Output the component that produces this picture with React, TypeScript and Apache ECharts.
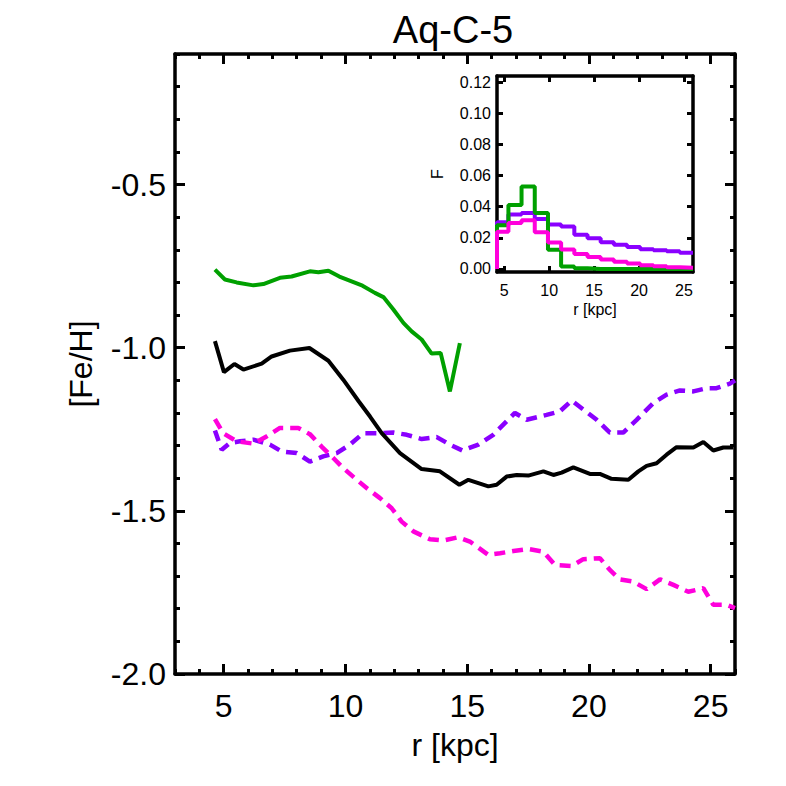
import React, { useEffect, useRef } from "react";
import * as echarts from "echarts";

// ---- Main panel data ----
const blackR = [4.64, 5.01, 5.44, 5.81, 6.56, 6.97, 7.72, 8.52, 9.3, 9.91, 10.55, 11.01, 11.49, 12.24, 13.13, 13.88, 14.68, 15.05, 15.87, 16.21, 16.62, 17.03, 17.51, 18.13, 18.54, 18.88, 19.36, 20.04, 20.45, 20.93, 21.62, 22.03, 22.37, 22.78, 23.19, 23.6, 24.29, 24.7, 25.11, 25.52, 25.93];
const blackFeH = [-0.98, -1.075, -1.05, -1.067, -1.049, -1.027, -1.009, -1.001, -1.04, -1.098, -1.165, -1.211, -1.262, -1.323, -1.372, -1.379, -1.42, -1.405, -1.425, -1.42, -1.395, -1.39, -1.392, -1.379, -1.39, -1.383, -1.367, -1.387, -1.387, -1.402, -1.405, -1.379, -1.362, -1.354, -1.328, -1.305, -1.306, -1.289, -1.315, -1.306, -1.306];

const greenR = [4.64, 5.05, 5.53, 6.22, 6.63, 7.31, 7.79, 8.54, 8.89, 9.3, 9.75, 10.7, 11.21, 11.56, 11.97, 12.38, 12.72, 13.13, 13.54, 13.91, 14.29, 14.7];
const greenFeH = [-0.761, -0.791, -0.8, -0.809, -0.805, -0.786, -0.782, -0.766, -0.769, -0.764, -0.782, -0.81, -0.832, -0.845, -0.883, -0.924, -0.95, -0.975, -1.018, -1.016, -1.134, -0.986];

const purpleR = [4.64, 4.92, 5.26, 5.67, 6.22, 6.9, 7.38, 8.0, 8.54, 9.09, 9.64, 10.19, 10.73, 11.28, 11.97, 12.52, 13.13, 13.75, 14.29, 14.8, 15.46, 16.07, 16.96, 17.44, 18.26, 18.81, 19.29, 20.32, 20.86, 21.41, 21.96, 22.64, 23.19, 23.74, 24.29, 24.84, 25.24, 25.79, 26.0];
const purpleFeH = [-1.254, -1.313, -1.292, -1.287, -1.282, -1.297, -1.318, -1.323, -1.349, -1.333, -1.323, -1.297, -1.262, -1.262, -1.26, -1.267, -1.28, -1.274, -1.297, -1.315, -1.297, -1.267, -1.2, -1.221, -1.206, -1.195, -1.162, -1.221, -1.26, -1.26, -1.221, -1.17, -1.144, -1.131, -1.134, -1.124, -1.124, -1.11, -1.1];

const pinkR = [4.64, 4.98, 5.53, 6.22, 6.76, 7.31, 8.06, 8.54, 9.02, 9.5, 9.91, 10.39, 10.87, 11.42, 11.9, 12.31, 12.79, 13.47, 14.02, 14.63, 15.11, 15.87, 16.35, 16.9, 17.51, 18.13, 18.61, 19.29, 19.77, 20.45, 20.86, 21.27, 21.82, 22.37, 22.92, 23.47, 24.08, 24.7, 25.11, 25.66, 26.0];
const pinkFeH = [-1.219, -1.262, -1.287, -1.294, -1.272, -1.246, -1.246, -1.265, -1.303, -1.338, -1.369, -1.4, -1.43, -1.461, -1.492, -1.533, -1.563, -1.587, -1.591, -1.581, -1.594, -1.635, -1.63, -1.623, -1.617, -1.625, -1.666, -1.669, -1.648, -1.645, -1.681, -1.71, -1.717, -1.74, -1.71, -1.727, -1.748, -1.737, -1.788, -1.788, -1.798];

// ---- Inset histogram data ----
const binEdges = [4.2, 5.47, 6.93, 8.4, 9.87, 11.33, 12.8, 14.27, 15.73, 17.2, 18.67, 20.13, 21.6, 23.07, 24.53, 26.0];
const histPurple = [0.030, 0.035, 0.036, 0.032, 0.0285, 0.0272, 0.022, 0.0197, 0.0172, 0.0155, 0.014, 0.0127, 0.012, 0.0113, 0.0104];
const histGreen = [0.028, 0.041, 0.053, 0.036, 0.0123, 0.0016, 0.0004, 0.0, 0.0, 0.0, 0.0, 0.0, 0.0, 0.0, 0.0];
const histPink = [0.0238, 0.0295, 0.0313, 0.0235, 0.017, 0.0125, 0.0095, 0.0076, 0.006, 0.0046, 0.0034, 0.0024, 0.0017, 0.0011, 0.0007];

// ---- Tick values ----
const mainXMajor = [5, 10, 15, 20, 25];
const mainYMajor = [-2.0, -1.5, -1.0, -0.5];
const insetXTicks = [5, 10, 15, 20, 25];
const insetYTicks = [0, 0.02, 0.04, 0.06, 0.08, 0.1, 0.12];

const FONT = "Liberation Sans";
const C_BLACK = "#000000";
const C_GREEN = "#00a000";
const C_PURPLE = "#8a00ff";
const C_PINK = "#ff00dc";

function pairs(xs: number[], ys: number[]) {
  return xs.map((x, i) => [x, ys[i]]);
}
function stepData(edges: number[], vals: number[]) {
  const pts: number[][] = [[edges[0], 0]];
  vals.forEach((v, i) => {
    pts.push([edges[i], v]);
    pts.push([edges[i + 1], v]);
  });
  return pts;
}

export default function App() {
  const ref = useRef<HTMLDivElement>(null);
  useEffect(() => {
    if (!ref.current) return;
    const chart = echarts.init(ref.current, null, { renderer: "svg" });
    const axisLine = { show: true, onZero: false, lineStyle: { color: "#000", width: 3.5 } };
    const hiddenLine = { show: false, onZero: false };
    const noLabel = { show: false };
    const base = { type: "value", splitLine: { show: false }, nameMoveOverlap: false };
    const mainX = { ...base, min: 3, max: 26, gridIndex: 0 };
    const mainY = { ...base, min: -2, max: -0.1, gridIndex: 0 };
    const insX = { ...base, min: 4.2, max: 26, gridIndex: 1 };
    const insY = { ...base, min: -0.002, max: 0.124, gridIndex: 1 };
    const minorTick = { show: true, inside: true, length: 5, lineStyle: { width: 3, color: "#000" } };
    const majorTick = (vals: number[], len: number) => ({
      show: true,
      inside: true,
      length: len,
      customValues: vals,
      lineStyle: { width: 3, color: "#000" },
    });

    const lineSeries = (name: string, data: number[][], color: string, dashed: boolean, xi: number, yi: number) => ({
      type: "line",
      name,
      data,
      xAxisIndex: xi,
      yAxisIndex: yi,
      showSymbol: false,
      symbol: "none",
      lineStyle: { color, width: dashed ? 4.5 : 4, type: dashed ? [11, 7] : "solid" },
      z: 3,
    });

    const option: any = {
      animation: false,
      backgroundColor: "#ffffff",
      grid: [
        { left: 175, top: 54, right: 51, bottom: 112 },
        { left: 497, top: 76, right: 93, bottom: 514 },
      ],
      graphic: [
        {
          type: "text",
          x: 453,
          y: 30,
          style: {
            text: "Aq-C-5",
            font: `38px "${FONT}"`,
            fill: "#000",
            textAlign: "center",
            textVerticalAlign: "middle",
          },
        },
      ],
      xAxis: [
        {
          ...mainX,
          position: "bottom",
          interval: 1,
          axisLine,
          axisTick: minorTick,
          axisLabel: {
            show: true,
            margin: 16,
            fontSize: 32,
            fontFamily: FONT,
            color: "#000",
            formatter: (v: number) => (Math.abs(v % 5) < 1e-6 ? String(Math.round(v)) : ""),
          },
          name: "r [kpc]",
          nameLocation: "middle",
          nameGap: 55,
          nameTextStyle: { fontSize: 32, fontFamily: FONT, color: "#000" },
        },
        { ...mainX, position: "bottom", axisLine: hiddenLine, axisTick: majorTick(mainXMajor, 10), axisLabel: noLabel },
        { ...mainX, position: "top", interval: 1, axisLine, axisTick: minorTick, axisLabel: noLabel },
        { ...mainX, position: "top", axisLine: hiddenLine, axisTick: majorTick(mainXMajor, 10), axisLabel: noLabel },
        {
          ...insX,
          position: "bottom",
          axisLine,
          axisTick: majorTick(insetXTicks, 6),
          axisLabel: {
            show: true,
            customValues: insetXTicks,
            margin: 10,
            fontSize: 16,
            fontFamily: FONT,
            color: "#000",
            formatter: (v: number) => String(Math.round(v)),
          },
          name: "r [kpc]",
          nameLocation: "middle",
          nameGap: 29,
          nameTextStyle: { fontSize: 16, fontFamily: FONT, color: "#000" },
        },
        { ...insX, position: "top", axisLine, axisTick: majorTick(insetXTicks, 6), axisLabel: noLabel },
      ],
      yAxis: [
        {
          ...mainY,
          position: "left",
          interval: 0.1,
          axisLine,
          axisTick: minorTick,
          axisLabel: {
            show: true,
            margin: 9,
            fontSize: 32,
            fontFamily: FONT,
            color: "#000",
            formatter: (v: number) =>
              Math.abs(v * 2 - Math.round(v * 2)) < 1e-6 ? (Math.round(v * 10) / 10).toFixed(1) : "",
          },
          name: "[Fe/H]",
          nameLocation: "middle",
          nameGap: 78,
          nameTextStyle: { fontSize: 32, fontFamily: FONT, color: "#000" },
        },
        { ...mainY, position: "left", axisLine: hiddenLine, axisTick: majorTick(mainYMajor, 10), axisLabel: noLabel },
        { ...mainY, position: "right", interval: 0.1, axisLine, axisTick: minorTick, axisLabel: noLabel },
        { ...mainY, position: "right", axisLine: hiddenLine, axisTick: majorTick(mainYMajor, 10), axisLabel: noLabel },
        {
          ...insY,
          position: "left",
          axisLine,
          axisTick: majorTick(insetYTicks, 6),
          axisLabel: {
            show: true,
            customValues: insetYTicks,
            margin: 6,
            fontSize: 16,
            fontFamily: FONT,
            color: "#000",
            formatter: (v: number) => v.toFixed(2),
          },
          name: "F",
          nameLocation: "middle",
          nameGap: 52,
          nameTextStyle: { fontSize: 16, fontFamily: FONT, color: "#000" },
        },
        { ...insY, position: "right", axisLine, axisTick: majorTick(insetYTicks, 6), axisLabel: noLabel },
      ],
      series: [
        lineSeries("purple", pairs(purpleR, purpleFeH), C_PURPLE, true, 0, 0),
        lineSeries("pink", pairs(pinkR, pinkFeH), C_PINK, true, 0, 0),
        lineSeries("black", pairs(blackR, blackFeH), C_BLACK, false, 0, 0),
        lineSeries("green", pairs(greenR, greenFeH), C_GREEN, false, 0, 0),
        lineSeries("hPurple", stepData(binEdges, histPurple), C_PURPLE, false, 4, 4),
        lineSeries("hGreen", stepData(binEdges, histGreen), C_GREEN, false, 4, 4),
        lineSeries("hPink", stepData(binEdges, histPink), C_PINK, false, 4, 4),
      ],
    };
    chart.setOption(option);
    return () => chart.dispose();
  }, []);
  return (
    <div
      ref={ref}
      style={{ position: "fixed", left: 0, top: 0, width: 786, height: 786, background: "#fff" }}
    />
  );
}
